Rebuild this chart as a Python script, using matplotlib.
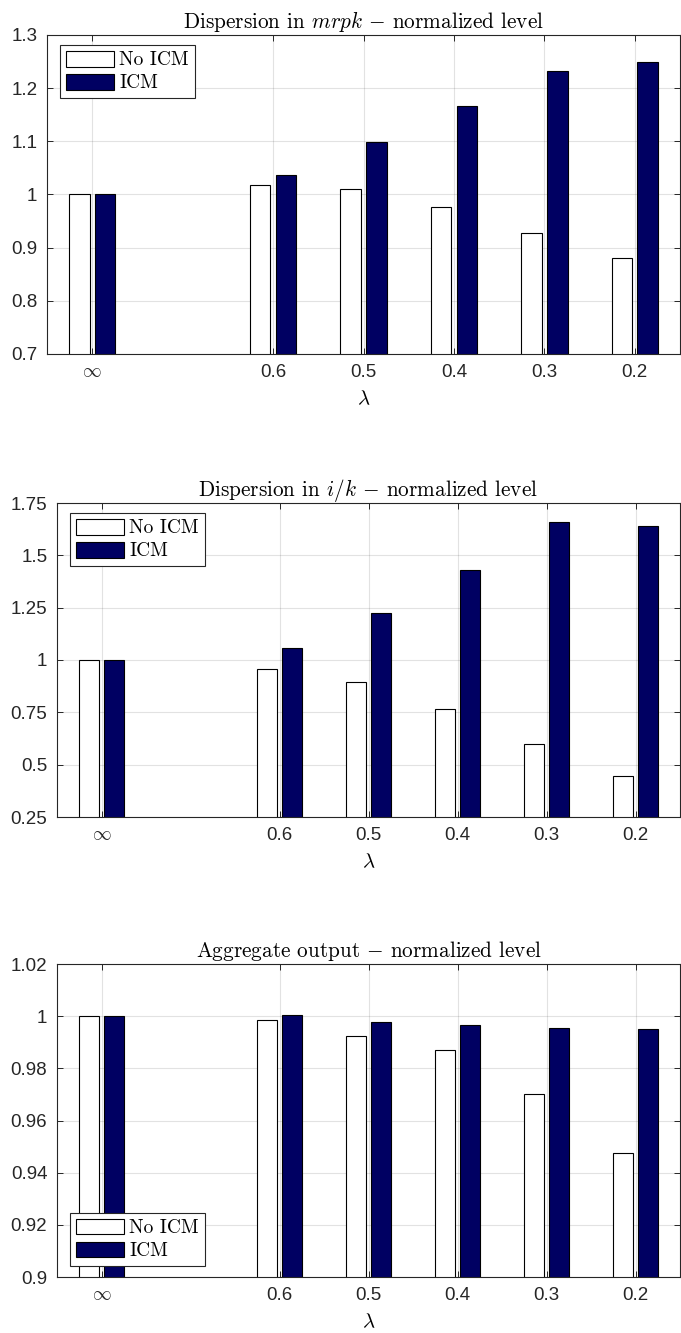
import matplotlib
matplotlib.use("Agg")
import matplotlib.pyplot as plt

plt.rcParams['mathtext.fontset'] = 'cm'
plt.rcParams['font.family'] = ['Liberation Sans', 'DejaVu Sans']

# lambda values (bar groups), infinity first
lam_labels = [r'$\infty$', '0.6', '0.5', '0.4', '0.3', '0.2']
lam_x = [1, 3, 4, 5, 6, 7]

# dispersion in mrpk
mrpk_no_icm = [1.000, 1.017, 1.010, 0.977, 0.928, 0.881]
mrpk_icm = [1.000, 1.037, 1.098, 1.166, 1.232, 1.249]

# dispersion in i/k
ik_no_icm = [1.000, 0.958, 0.893, 0.767, 0.599, 0.448]
ik_icm = [1.000, 1.058, 1.224, 1.430, 1.657, 1.642]

# aggregate output
out_no_icm = [1.000, 0.9984, 0.9924, 0.9872, 0.9700, 0.9474]
out_icm = [1.000, 1.0003, 0.9977, 0.9966, 0.9956, 0.9951]

titles = [r'Dispersion in $mrpk$ $-$ normalized level',
          r'Dispersion in $i/k$ $-$ normalized level',
          r'Aggregate output $-$ normalized level']

W, H = 681, 1333
fig = plt.figure(figsize=(W / 100, H / 100), dpi=100)

# axes boxes in pixels: left, right, top, bottom
boxes = [(47, 680, 35, 354), (57, 680, 503, 817), (57, 680, 964, 1277)]
ylims = [(0.7, 1.3), (0.25, 1.75), (0.9, 1.02)]
yticks = [[0.7, 0.8, 0.9, 1.0, 1.1, 1.2, 1.3],
          [0.25, 0.5, 0.75, 1.0, 1.25, 1.5, 1.75],
          [0.9, 0.92, 0.94, 0.96, 0.98, 1.0, 1.02]]
yticklabels = [['0.7', '0.8', '0.9', '1', '1.1', '1.2', '1.3'],
               ['0.25', '0.5', '0.75', '1', '1.25', '1.5', '1.75'],
               ['0.9', '0.92', '0.94', '0.96', '0.98', '1', '1.02']]
series = [(mrpk_no_icm, mrpk_icm), (ik_no_icm, ik_icm), (out_no_icm, out_icm)]
leg_loc = ['upper left', 'upper left', 'lower left']

navy = '#000062'
dark = '#262626'
bw = 0.229
off = 0.143

for k in range(3):
    l, r, t, b = boxes[k]
    ax = fig.add_axes([l / W, 1 - b / H, (r - l) / W, (b - t) / H])
    no_icm, icm = series[k]
    ax.bar([x - off for x in lam_x], no_icm, width=bw, color='white',
           edgecolor='black', linewidth=0.8, label=r'No ICM')
    ax.bar([x + off for x in lam_x], icm, width=bw, color=navy,
           edgecolor='black', linewidth=0.8, label=r'ICM')
    ax.set_xlim(0.5, 7.5)
    ax.set_ylim(*ylims[k])
    ax.set_xticks(lam_x)
    ax.set_xticklabels(lam_labels)
    ax.set_yticks(yticks[k])
    ax.set_yticklabels(yticklabels[k])
    ax.set_axisbelow(True)
    ax.grid(True, color=dark, alpha=0.13, linewidth=0.8)
    ax.tick_params(direction='in', length=4, width=0.7, colors=dark,
                   labelsize=13.5, top=True, right=True, pad=7)
    for s in ax.spines.values():
        s.set_color(dark)
        s.set_linewidth(0.8)
    ax.set_title(titles[k], fontsize=15.3, family='cmr10', pad=5)
    ax.set_xlabel(r'$\lambda$', fontsize=15, labelpad=6)
    if leg_loc[k] == 'upper left':
        anchor = (13 / (r - l), 1 - 10 / (b - t))
    else:
        anchor = (13 / (r - l), 11 / (b - t))
    leg = ax.legend(loc=leg_loc[k], bbox_to_anchor=anchor, borderaxespad=0,
                    prop={'family': 'cmr10', 'size': 14}, fancybox=False,
                    framealpha=1, edgecolor=dark, handlelength=2.5,
                    handleheight=0.88, handletextpad=0.25, labelspacing=0.22,
                    borderpad=0.3)
    leg.get_frame().set_linewidth(0.8)

fig.savefig('out.png', dpi=100)
